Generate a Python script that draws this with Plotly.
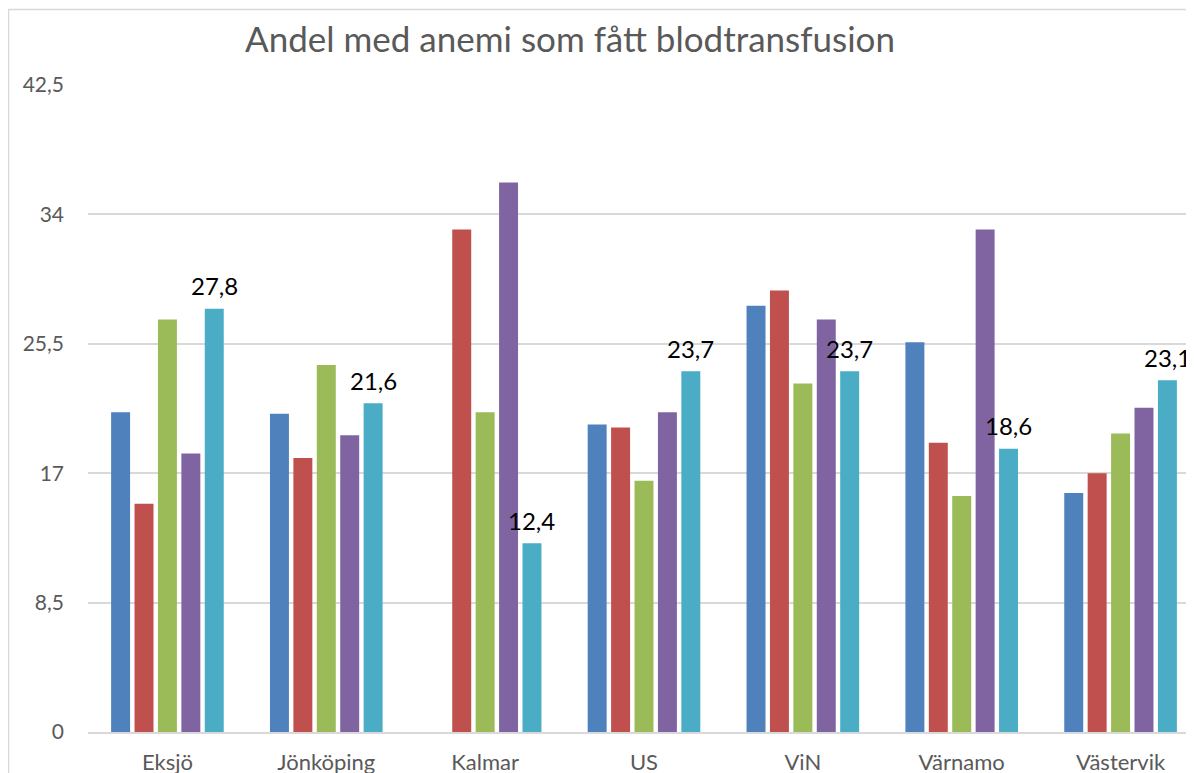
import plotly.graph_objects as go

categories = ["Eksjö", "Jönköping", "Kalmar", "US", "ViN", "Värnamo", "Västervik"]
series_names = ["Serie 1", "Serie 2", "Serie 3", "Serie 4", "Serie 5"]
s1 = [21.0, 20.9, None, 20.2, 28.0, 25.6, 15.7]
s2 = [15.0, 18.0, 33.0, 20.0, 29.0, 19.0, 17.0]
s3 = [27.1, 24.1, 21.0, 16.5, 22.9, 15.5, 19.6]
s4 = [18.3, 19.5, 36.1, 21.0, 27.1, 33.0, 21.3]
s5 = [27.8, 21.6, 12.4, 23.7, 23.7, 18.6, 23.1]
colors = ["#4F81BD", "#C0504D", "#9BBB59", "#8064A2", "#4BACC6"]
tick_vals = [0, 8.5, 17, 25.5, 34, 42.5]
tick_text = ["0", "8,5", "17", "25,5", "34", "42,5"]

FONT = "Lato, Carlito, Calibri, sans-serif"
BARGAP, GROUPGAP = 0.263, 0.19

fig = go.Figure()
all_series = [s1, s2, s3, s4, s5]
for i, (name, vals) in enumerate(zip(series_names, all_series)):
    fig.add_trace(go.Bar(
        x=categories, y=vals, name=name,
        marker=dict(color=colors[i], line=dict(width=0)),
    ))

# data labels for the last series, placed above its bars
n_series = len(all_series)
slot = (1 - BARGAP) / n_series
offset = (n_series - 1 - (n_series - 1) / 2) * slot
for ci, v in enumerate(s5):
    fig.add_annotation(
        x=ci + offset, y=v, xref="x", yref="y",
        text=f"{v:.1f}".replace(".", ","), showarrow=False,
        xanchor="center", yanchor="middle", yshift=23,
        font=dict(family=FONT, size=24, color="#000000"),
    )

# page body has an 8px margin; figure coords = page coords - 8
OFF = 8
W, H = 1194, 773
L, T = 88 - OFF, 85 - OFF
B = H - (732 - OFF)
R = W - (1200 - OFF)
pw, ph = W - L - R, H - T - B

def px_x(p):
    return (p - OFF - L) / pw

def px_y(p):
    return (H - B - (p - OFF)) / ph

fig.add_shape(type="rect", xref="paper", yref="paper",
              x0=px_x(8.5), x1=1.2, y0=-0.3, y1=px_y(9.5),
              line=dict(color="#D9D9D9", width=1.5), fillcolor="rgba(0,0,0,0)",
              layer="below")

fig.update_layout(
    width=W, height=H,
    margin=dict(l=L, r=R, t=T, b=B, autoexpand=False),
    paper_bgcolor="white", plot_bgcolor="white",
    barmode="group", bargap=BARGAP, bargroupgap=GROUPGAP,
    showlegend=False,
    title=dict(text="Andel med anemi som fått blodtransfusion",
               font=dict(family=FONT, size=35, color="#595959"),
               x=px_x(570), xanchor="center", xref="paper",
               y=1 - (40 - OFF) / H, yanchor="middle", automargin=False),
    font=dict(family=FONT, color="#595959"),
)
fig.update_xaxes(
    showgrid=False, showline=True, linecolor="#D9D9D9", linewidth=1.5,
    tickfont=dict(family=FONT, size=22, color="#595959"),
    ticks="", ticklabelstandoff=10, automargin=False,
)
fig.update_yaxes(
    range=[0, 42.5], tickvals=tick_vals, ticktext=tick_text,
    showgrid=True, gridcolor="#D9D9D9", gridwidth=1.5,
    zeroline=False, showline=False,
    tickfont=dict(family=FONT, size=21, color="#595959"),
    ticks="", ticklabelstandoff=23, automargin=False,
)

fig.write_html("out.html")
